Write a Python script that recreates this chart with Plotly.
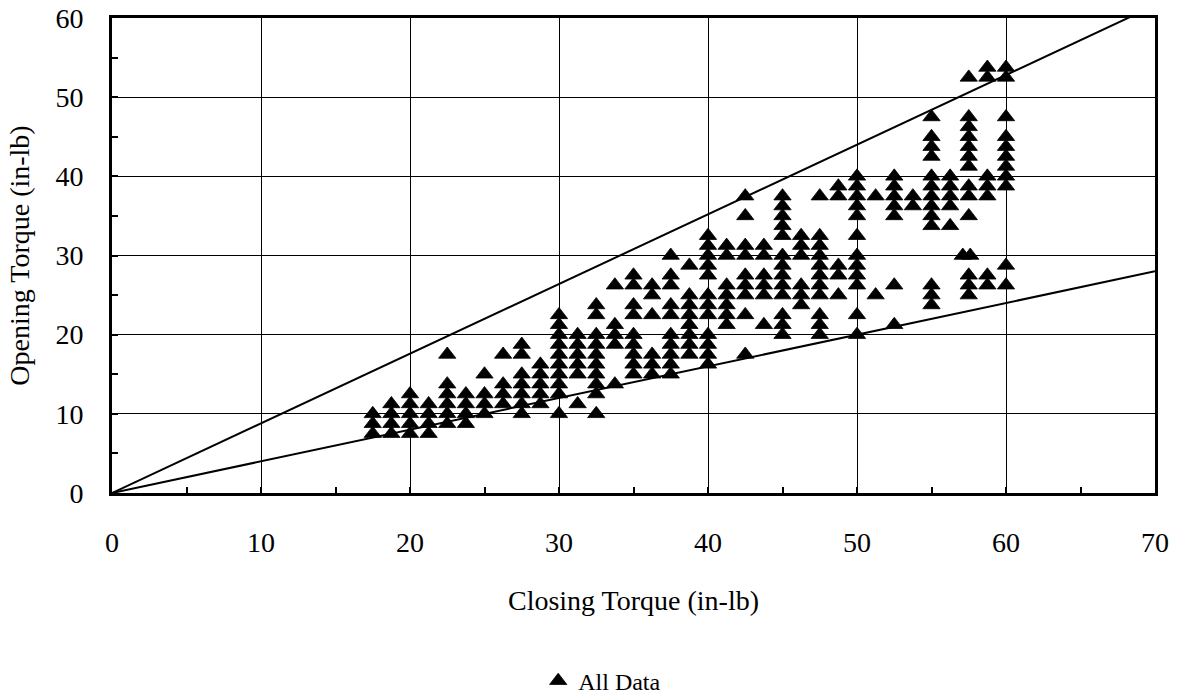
import plotly.graph_objects as go

# Closing / opening torque pairs (in-lb), grouped by closing torque
closing_torque = (
    [17.5] * 3 + [18.75] * 4 + [20] * 5 + [21.25] * 4 + [22.5] * 6 + [23.75] * 4
    + [25] * 4 + [26.25] * 4 + [27.5] * 7 + [28.75] * 5 + [30] * 10 + [31.25] * 6
    + [32.5] * 10 + [33.75] * 5 + [35] * 9 + [36.25] * 6 + [37.5] * 10 + [38.75] * 8
    + [40] * 12 + [41.25] * 7 + [42.5] * 9 + [43.75] * 6 + [45] * 13 + [46.25] * 6
    + [47.5] * 11 + [48.75] * 5 + [50] * 12 + [51.25] * 2 + [52.5] * 7 + [53.75] * 2
    + [55] * 13 + [56.25] * 5 + [57.5] * 13 + [57.1, 57.6] + [58.75] * 7 + [60] * 11
)
opening_torque = (
    [7.5, 8.75, 10]
    + [7.5, 8.75, 10, 11.25]
    + [7.5, 8.75, 10, 11.25, 12.5]
    + [7.5, 8.75, 10, 11.25]
    + [8.75, 10, 11.25, 12.5, 13.75, 17.5]
    + [8.75, 10, 11.25, 12.5]
    + [10, 11.25, 12.5, 15]
    + [11.25, 12.5, 13.75, 17.5]
    + [10, 11.25, 12.5, 13.75, 15, 17.5, 18.75]
    + [11.25, 12.5, 13.75, 15, 16.25]
    + [10, 12.5, 13.75, 15, 16.25, 17.5, 18.75, 20, 21.25, 22.5]
    + [11.25, 15, 16.25, 17.5, 18.75, 20]
    + [10, 12.5, 13.75, 15, 16.25, 17.5, 18.75, 20, 22.5, 23.75]
    + [13.75, 18.75, 20, 21.25, 26.25]
    + [15, 16.25, 17.5, 18.75, 20, 22.5, 23.75, 26.25, 27.5]
    + [15, 16.25, 17.5, 22.5, 25, 26.25]
    + [15, 16.25, 17.5, 18.75, 20, 22.5, 23.75, 26.25, 27.5, 30]
    + [17.5, 18.75, 20, 21.25, 22.5, 23.75, 25, 28.75]
    + [16.25, 17.5, 18.75, 20, 22.5, 23.75, 25, 27.5, 28.75, 30, 31.25, 32.5]
    + [21.25, 22.5, 23.75, 25, 26.25, 30, 31.25]
    + [17.5, 22.5, 25, 26.25, 27.5, 30, 31.25, 35, 37.5]
    + [21.25, 25, 26.25, 27.5, 30, 31.25]
    + [20, 21.25, 22.5, 25, 26.25, 27.5, 28.75, 30, 32.5, 33.75, 35, 36.25, 37.5]
    + [23.75, 25, 26.25, 30, 31.25, 32.5]
    + [20, 21.25, 22.5, 25, 26.25, 27.5, 28.75, 30, 31.25, 32.5, 37.5]
    + [25, 27.5, 28.75, 37.5, 38.75]
    + [20, 22.5, 26.25, 27.5, 28.75, 30, 32.5, 35, 36.25, 37.5, 38.75, 40]
    + [25, 37.5]
    + [21.25, 26.25, 35, 36.25, 37.5, 38.75, 40]
    + [36.25, 37.5]
    + [23.75, 25, 26.25, 33.75, 35, 36.25, 37.5, 38.75, 40, 42.5, 43.75, 45, 47.5]
    + [33.75, 36.25, 37.5, 38.75, 40]
    + [25, 26.25, 27.5, 35, 37.5, 38.75, 41.25, 42.5, 43.75, 45, 46.25, 47.5, 52.5]
    + [30, 30]
    + [26.25, 27.5, 37.5, 38.75, 40, 52.5, 53.75]
    + [26.25, 28.75, 38.75, 40, 41.25, 42.5, 43.75, 45, 47.5, 52.5, 53.75]
)

# Bounding lines through the origin (opening = slope * closing)
upper_slope = 0.88
lower_slope = 0.40
x_max = 70

x_ticks = [0, 10, 20, 30, 40, 50, 60, 70]
y_ticks = [0, 10, 20, 30, 40, 50, 60]

FONT = "Liberation Serif"

fig = go.Figure()

for slope in (upper_slope, lower_slope):
    fig.add_trace(go.Scatter(
        x=[0, x_max], y=[0, slope * x_max], mode="lines",
        line=dict(color="black", width=2), showlegend=False, hoverinfo="skip",
    ))

fig.add_trace(go.Scatter(
    x=closing_torque, y=opening_torque, mode="markers", name="All Data",
    marker=dict(symbol="triangle-up", size=15, color="black",
                line=dict(width=0.8, color="black")),
))

axis_common = dict(
    showline=True, linecolor="black", linewidth=3, mirror=True,
    showgrid=True, gridcolor="black", gridwidth=1,
    ticks="inside", ticklen=6, tickwidth=2, tickcolor="black",
    zeroline=False,
    tickfont=dict(family=FONT, size=28, color="black"),
)

fig.update_xaxes(
    range=[0, 70], tickvals=x_ticks, ticktext=[str(v) for v in x_ticks],
    minor=dict(ticks="inside", ticklen=6, tickwidth=2, tickcolor="black", dtick=5, showgrid=False),
    title=dict(text="Closing Torque (in-lb)", font=dict(family=FONT, size=28, color="black"), standoff=34),
    ticklabelstandoff=22,
    **axis_common,
)
fig.update_yaxes(
    range=[0, 60], tickvals=y_ticks, ticktext=[str(v) for v in y_ticks],
    minor=dict(ticks="inside", ticklen=6, tickwidth=2, tickcolor="black", dtick=5, showgrid=False),
    title=dict(text="Opening Torque (in-lb)", font=dict(family=FONT, size=28, color="black"), standoff=18),
    ticklabelstandoff=20,
    **axis_common,
)

fig.update_layout(
    width=1180, height=696,
    margin=dict(l=112, r=25, t=18, b=203, autoexpand=False),
    paper_bgcolor="white", plot_bgcolor="white",
    font=dict(family=FONT, color="black"),
    showlegend=True,
    legend=dict(
        orientation="h", x=0.47, xanchor="center", y=-0.396, yanchor="middle",
        font=dict(family=FONT, size=24, color="black"),
        itemwidth=30, bgcolor="rgba(0,0,0,0)",
    ),
)

fig.write_html("out.html")
